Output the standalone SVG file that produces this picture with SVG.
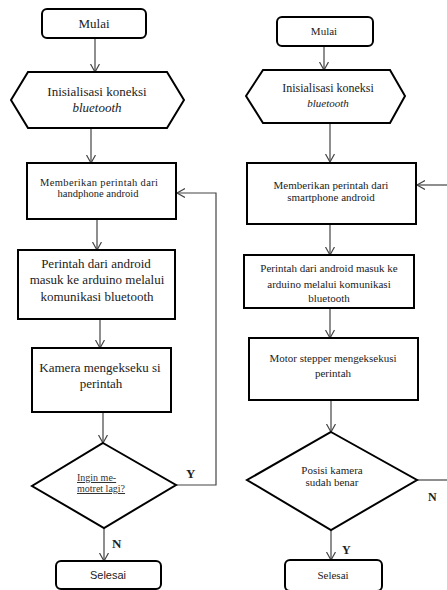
<svg xmlns="http://www.w3.org/2000/svg" width="447" height="590" viewBox="0 0 447 590">
<style>
.shape{fill:#fff;stroke:#000;stroke-width:2}
.conn{fill:none;stroke:#444;stroke-width:1.2}
.t{font-family:'Liberation Serif',serif;fill:#222;text-anchor:middle}
.s{font-family:'Liberation Sans',sans-serif;fill:#222;text-anchor:middle}
.lbl{font-family:'Liberation Serif',serif;font-weight:bold;fill:#222;font-size:13px}
.sp{font-family:'Liberation Serif',serif;fill:#333;font-size:10px;text-decoration:underline;text-decoration-color:#5a9a3a}
</style>
<defs>
<marker id="arr" markerUnits="userSpaceOnUse" markerWidth="12" markerHeight="12" refX="8" refY="4.5" orient="auto">
<path d="M0,0 L8,4.5 L0,9" fill="none" stroke="#444" stroke-width="1.2"/>
</marker>
</defs>
<rect width="447" height="590" fill="#fff"/>

<g id="connectors">
<line class="conn" x1="95" y1="38" x2="95" y2="72" marker-end="url(#arr)"/>
<line class="conn" x1="91" y1="128" x2="91" y2="163" marker-end="url(#arr)"/>
<line class="conn" x1="97" y1="219" x2="97" y2="250" marker-end="url(#arr)"/>
<line class="conn" x1="100" y1="319" x2="100" y2="348" marker-end="url(#arr)"/>
<line class="conn" x1="103" y1="412" x2="103" y2="443" marker-end="url(#arr)"/>
<line class="conn" x1="104" y1="528" x2="104" y2="561" marker-end="url(#arr)"/>
<polyline class="conn" points="176,485 216,485 216,193 177,193" marker-end="url(#arr)"/>

<line class="conn" x1="324" y1="46" x2="324" y2="70" marker-end="url(#arr)"/>
<line class="conn" x1="330" y1="123" x2="330" y2="162" marker-end="url(#arr)"/>
<line class="conn" x1="330" y1="224" x2="330" y2="255" marker-end="url(#arr)"/>
<line class="conn" x1="330" y1="308" x2="330" y2="338" marker-end="url(#arr)"/>
<line class="conn" x1="331" y1="400" x2="331" y2="432" marker-end="url(#arr)"/>
<line class="conn" x1="331" y1="530" x2="331" y2="560" marker-end="url(#arr)"/>
<line class="conn" x1="417" y1="480" x2="447" y2="480"/>
<line class="conn" x1="447" y1="185" x2="417" y2="185" marker-end="url(#arr)"/>
<text class="lbl" x="186" y="478">Y</text>
<text class="lbl" x="112" y="548">N</text>
<text class="lbl" x="428" y="501" style="font-size:12px">N</text>
<text class="lbl" x="342" y="554" style="font-size:12px">Y</text>
</g>

<g id="L_mulai">
<rect class="shape" x="42" y="9" width="104" height="29" rx="5"/>
<text class="t" x="94" y="28" font-size="13">Mulai</text>
</g>
<g id="L_init">
<polygon class="shape" points="11,100 28,72 167,72 184,100 167,128 28,128"/>
<text class="t" x="97" y="96" font-size="13">Inisialisasi koneksi</text>
<text class="t" x="97" y="112" font-size="13" font-style="italic">bluetooth</text>
</g>
<g id="L_beri">
<rect class="shape" x="27" y="163" width="149" height="56"/>
<text class="t" x="99" y="186" font-size="10.5" textLength="118" lengthAdjust="spacing">Memberikan perintah dari</text>
<text class="t" x="98" y="197" font-size="10.5" textLength="81" lengthAdjust="spacing">handphone android</text>
</g>
<g id="L_perintah">
<rect class="shape" x="18" y="250" width="157" height="69"/>
<text class="t" x="96" y="268" font-size="13">Perintah dari android</text>
<text class="t" x="97" y="284" font-size="13">masuk ke arduino melalui</text>
<text class="t" x="97" y="301" font-size="13">komunikasi bluetooth</text>
</g>
<g id="L_kamera">
<rect class="shape" x="32" y="348" width="139" height="64"/>
<text class="t" x="100" y="372" font-size="13">Kamera mengekseku si</text>
<text class="t" x="101" y="388" font-size="13">perintah</text>
</g>
<g id="L_decision">
<polygon class="shape" points="103,443 176,485 104,528 32,486"/>
<text class="sp" x="77" y="481">Ingin me-</text>
<text class="sp" x="77" y="492">motret lagi?</text>
</g>
<g id="L_selesai">
<rect class="shape" x="56" y="561" width="105" height="28" rx="5"/>
<text class="s" x="108" y="579" font-size="11">Selesai</text>
</g>

<g id="R_mulai">
<rect class="shape" x="277" y="17" width="96" height="29" rx="5"/>
<text class="t" x="324" y="35" font-size="11">Mulai</text>
</g>
<g id="R_init">
<polygon class="shape" points="246,96 263,70 390,70 405,96 390,123 263,123"/>
<text class="t" x="328" y="92" font-size="12">Inisialisasi koneksi</text>
<text class="t" x="328" y="107" font-size="11" font-style="italic">bluetooth</text>
</g>
<g id="R_beri">
<rect class="shape" x="247" y="163" width="169" height="61"/>
<text class="t" x="331" y="189" font-size="11">Memberikan perintah dari</text>
<text class="t" x="331" y="201" font-size="11">smartphone android</text>
</g>
<g id="R_perintah">
<rect class="shape" x="244" y="255" width="170" height="53"/>
<text class="t" x="329" y="272" font-size="11">Perintah dari android masuk ke</text>
<text class="t" x="329" y="288" font-size="11">arduino melalui komunikasi</text>
<text class="t" x="329" y="302" font-size="11">bluetooth</text>
</g>
<g id="R_motor">
<rect class="shape" x="249" y="338" width="169" height="62"/>
<text class="t" x="333" y="362" font-size="11">Motor stepper mengeksekusi</text>
<text class="t" x="333" y="377" font-size="11">perintah</text>
</g>
<g id="R_decision">
<polygon class="shape" points="331,432 417,480 331,530 247,480"/>
<text class="t" x="332" y="474" font-size="11">Posisi kamera</text>
<text class="t" x="332" y="486" font-size="11">sudah benar</text>
</g>
<g id="R_selesai">
<rect class="shape" x="285" y="560" width="97" height="31" rx="5"/>
<text class="t" x="333" y="579" font-size="11">Selesai</text>
</g>
</svg>
